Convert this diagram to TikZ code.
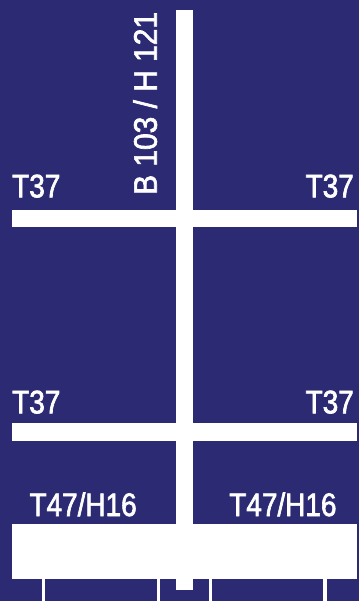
\documentclass[tikz,border=0pt]{standalone}
\usepackage{fontspec}
\setmainfont{Liberation Sans}[FakeStretch=0.86, FakeBold=2]
\newfontfamily\postfont{Liberation Sans}[FakeStretch=0.92, FakeBold=2]
\definecolor{bgC}{HTML}{2B2A72}
\definecolor{barC}{HTML}{FFFFFF}
\definecolor{labelC}{HTML}{FFFFFF}
\def\pageW{359}
\def\pageH{601}
\def\postL{176}
\def\postR{193}
\def\postTop{10}
\def\postBot{590}
\def\beamL{12}
\def\beamR{357}
\def\beamOneTop{210}
\def\beamOneBot{227}
\def\beamTwoTop{423}
\def\beamTwoBot{441}
\def\baseTop{524}
\def\baseBot{579}
\def\tickW{3.3}

\begin{document}
\begin{tikzpicture}[x=1pt, y=-1pt, font=\fontsize{32.5}{34}\selectfont]

  % Background
  \fill[bgC] (0, 0) rectangle (\pageW, \pageH);
  \useasboundingbox (0, 0) rectangle (\pageW, \pageH);

  % Feet below the base
  \foreach \tx in {41.7, 156.7, 209, 323.3}
    \fill[barC] (\tx, \baseBot) rectangle ({\tx+\tickW}, \pageH);

  % Post
  \fill[barC] (\postL, \postTop) rectangle (\postR, \postBot);

  % Cross beams
  \fill[barC] (\beamL, \beamOneTop) rectangle (\beamR, \beamOneBot);
  \fill[barC] (\beamL, \beamTwoTop) rectangle (\beamR, \beamTwoBot);

  % Base
  \fill[barC] (\beamL, \baseTop) rectangle (\beamR, \baseBot);

  % Labels
  \node[labelC, inner sep=0pt, anchor=base west, rotate=90, font=\postfont\fontsize{32.5}{34}\selectfont]
    (post) at (156.7, 195) {B 103 / H 121};
  \node[labelC, inner sep=0pt, anchor=base west] (upperL) at (12, 197.3) {T37};
  \node[labelC, inner sep=0pt, anchor=base east] (upperR) at (354, 197.3) {T37};
  \node[labelC, inner sep=0pt, anchor=base west] (lowerL) at (12, 413.3) {T37};
  \node[labelC, inner sep=0pt, anchor=base east] (lowerR) at (354, 413.3) {T37};
  \node[labelC, inner sep=0pt, anchor=base west] (baseL) at (29.3, 516) {T47/H16};
  \node[labelC, inner sep=0pt, anchor=base east] (baseR) at (336.7, 516) {T47/H16};
\end{tikzpicture}
\end{document}
